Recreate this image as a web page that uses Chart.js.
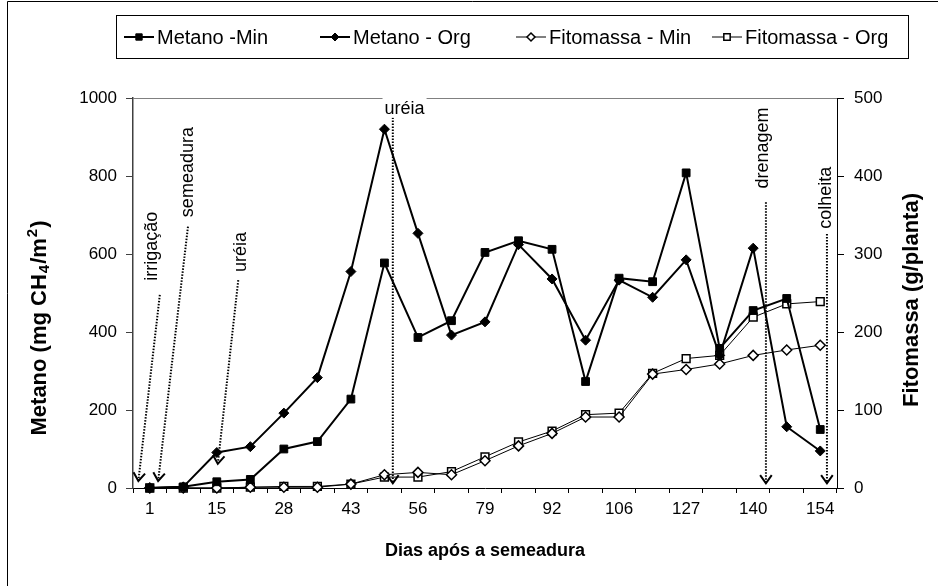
<!DOCTYPE html>
<html>
<head>
<meta charset="utf-8">
<script src="https://cdn.jsdelivr.net/npm/chart.js@4/dist/chart.umd.min.js"></script>
<style>
  html, body { margin: 0; padding: 0; background: #fff; }
  canvas { display: block; }
</style>
</head>
<body>
<canvas id="chart" width="938" height="586" style="width:938px;height:586px"></canvas>
<script>
// dias após a semeadura (only every second category is labelled in the original)
const dias = ['1', '', '15', '', '28', '', '43', '', '56', '', '79', '', '92', '', '106', '', '127', '', '140', '', '154'];

// metano (mg CH4/m2), left axis
const metanoMin = [0, 3, 16, 22, 100, 119, 228, 577, 386, 429, 604, 634, 612, 273, 538, 529, 808, 358, 455, 486, 150];
const metanoOrg = [0, 3, 91, 106, 192, 283, 555, 920, 653, 392, 426, 624, 536, 379, 533, 489, 585, 340, 615, 157, 95];

// fitomassa (g/planta), right axis
const fitoMin = [0, 0, 0, 1, 1, 1, 5, 17, 20, 17, 35, 54, 70, 91, 91, 146, 152, 159, 170, 177, 183];
const fitoOrg = [0, 0, 0, 1, 2, 2, 5, 14, 14, 21, 40, 59, 73, 94, 96, 147, 166, 170, 219, 236, 239];

const seriesNames = ['Metano -Min', 'Metano - Org', 'Fitomassa - Min', 'Fitomassa - Org'];

// management events: category index / left-axis value for text and arrow
const eventos = [
  { text: 'irrigação', rot: true, tx: 0.05, ty: 620, x1: 0.3, y1: 495, x2: -0.34, y2: 18 },
  { text: 'semeadura', rot: true, tx: 1.1, ty: 810, x1: 1.14, y1: 670, x2: 0.25, y2: 18 },
  { text: 'uréia', rot: true, tx: 2.69, ty: 605, x1: 2.64, y1: 533, x2: 2.03, y2: 62 },
  { text: 'uréia', rot: false, tx: 7.6, ty: 975, x1: 7.25, y1: 950, x2: 7.25, y2: 12 },
  { text: 'drenagem', rot: true, tx: 18.26, ty: 872, x1: 18.38, y1: 733, x2: 18.38, y2: 12 },
  { text: 'colheita', rot: true, tx: 20.15, ty: 744, x1: 20.2, y1: 651, x2: 20.2, y2: 12 }
];

const FONT = '"Liberation Sans", Arial, sans-serif';

function marker(ctx, style, x, y, r, fill, lw) {
  ctx.save();
  ctx.fillStyle = fill;
  ctx.strokeStyle = '#000';
  ctx.lineWidth = lw;
  ctx.beginPath();
  if (style === 'rect') {
    const s = r / Math.SQRT2;
    ctx.rect(x - s, y - s, 2 * s, 2 * s);
  } else {
    ctx.moveTo(x, y - r); ctx.lineTo(x + r, y); ctx.lineTo(x, y + r); ctx.lineTo(x - r, y); ctx.closePath();
  }
  ctx.fill();
  ctx.stroke();
  ctx.restore();
}

function rotatedTitle(ctx, parts, cx, cy) {
  ctx.save();
  ctx.fillStyle = '#000';
  ctx.textBaseline = 'middle';
  let total = 0;
  parts.forEach(p => { ctx.font = p[1]; total += ctx.measureText(p[0]).width + (p[3] || 0); });
  ctx.translate(cx, cy);
  ctx.rotate(-Math.PI / 2);
  let x = -total / 2;
  parts.forEach(p => {
    ctx.font = p[1];
    ctx.fillText(p[0], x, p[2]);
    x += ctx.measureText(p[0]).width + (p[3] || 0);
  });
  ctx.restore();
}

const extras = {
  id: 'extras',
  afterDraw(chart) {
    const ctx = chart.ctx;
    const xs = chart.scales.x, ys = chart.scales.y;
    const area = chart.chartArea;

    // outer frame (left and top edges; the rest is cut off in the original)
    ctx.save();
    ctx.strokeStyle = '#000';
    ctx.lineWidth = 1;
    ctx.beginPath();
    ctx.moveTo(7.5, 586);
    ctx.lineTo(7.5, 1.5);
    ctx.lineTo(938, 1.5);
    ctx.stroke();
    // plot area top edge
    ctx.strokeStyle = '#808080';
    ctx.beginPath();
    ctx.moveTo(area.left, area.top + 0.5);
    ctx.lineTo(area.right, area.top + 0.5);
    ctx.stroke();
    ctx.restore();

    // legend
    ctx.save();
    ctx.strokeStyle = '#000';
    ctx.lineWidth = 1;
    ctx.strokeRect(116.5, 15.5, 792, 43);
    const ly = 37, pitch = 196, sw = 30;
    ctx.font = '20px ' + FONT;
    ctx.textBaseline = 'middle';
    ctx.fillStyle = '#000';
    chart.data.datasets.forEach((ds, i) => {
      const x0 = 124 + i * pitch;
      ctx.lineWidth = ds.borderWidth;
      ctx.beginPath();
      ctx.moveTo(x0, ly);
      ctx.lineTo(x0 + sw, ly);
      ctx.stroke();
      marker(ctx, ds.pointStyle, x0 + sw / 2, ly, ds.pointRadius - 1, ds.pointBackgroundColor, ds.pointBorderWidth);
      ctx.fillText(ds.label, x0 + sw + 3, ly + 1);
    });
    ctx.restore();

    // event arrows
    ctx.save();
    eventos.forEach(ev => {
      const ax = xs.getPixelForValue(ev.x1), ay = ys.getPixelForValue(ev.y1);
      const bx = xs.getPixelForValue(ev.x2), by = ys.getPixelForValue(ev.y2);
      ctx.strokeStyle = '#000';
      ctx.lineWidth = 2;
      ctx.setLineDash([1.5, 1.5]);
      ctx.beginPath();
      ctx.moveTo(ax, ay);
      ctx.lineTo(bx, by);
      ctx.stroke();
      ctx.setLineDash([]);
      const ang = Math.atan2(by - ay, bx - ax);
      const L = 10, spread = 0.62;
      ctx.beginPath();
      ctx.moveTo(bx - L * Math.cos(ang - spread), by - L * Math.sin(ang - spread));
      ctx.lineTo(bx, by);
      ctx.lineTo(bx - L * Math.cos(ang + spread), by - L * Math.sin(ang + spread));
      ctx.stroke();
    });
    eventos.forEach(ev => {
      const px = xs.getPixelForValue(ev.tx), py = ys.getPixelForValue(ev.ty);
      ctx.save();
      ctx.translate(px, py);
      if (ev.rot) ctx.rotate(-Math.PI / 2);
      ctx.font = '18px ' + FONT;
      const w = ctx.measureText(ev.text).width;
      ctx.fillStyle = '#fff';
      ctx.fillRect(-w / 2 - 2, -10, w + 4, 20);
      ctx.fillStyle = '#000';
      ctx.textAlign = 'center';
      ctx.textBaseline = 'middle';
      ctx.fillText(ev.text, 0, 1);
      ctx.restore();
    });
    ctx.restore();

    // axis titles
    const big = 'bold 22px ' + FONT, small = 'bold 15px ' + FONT;
    rotatedTitle(ctx, [['Metano (mg CH', big, 0, 1], ['4', small, 5, 1], ['/m', big, 0, 1], ['2', small, -7, 1], [')', big, 0]], 40, 328);
    rotatedTitle(ctx, [['Fitomassa (g/planta)', big, 0]], 912, 300);

    ctx.save();
    ctx.fillStyle = '#000';
    ctx.font = 'bold 18px ' + FONT;
    ctx.textAlign = 'center';
    ctx.textBaseline = 'middle';
    ctx.fillText('Dias após a semeadura', (area.left + area.right) / 2, 551);
    ctx.restore();
  }
};

const tickFont = { family: FONT, size: 17 };

new Chart(document.getElementById('chart'), {
  type: 'line',
  data: {
    labels: dias,
    datasets: [
      { label: seriesNames[0], data: metanoMin, yAxisID: 'y', borderColor: '#000', borderWidth: 2,
        pointStyle: 'rect', pointRadius: 5.5, pointBackgroundColor: '#000', pointBorderColor: '#000', pointBorderWidth: 1 },
      { label: seriesNames[1], data: metanoOrg, yAxisID: 'y', borderColor: '#000', borderWidth: 2,
        pointStyle: 'rectRot', pointRadius: 5, pointBackgroundColor: '#000', pointBorderColor: '#000', pointBorderWidth: 1 },
      { label: seriesNames[2], data: fitoMin, yAxisID: 'y1', borderColor: '#000', borderWidth: 1,
        pointStyle: 'rectRot', pointRadius: 5, pointBackgroundColor: '#fff', pointBorderColor: '#000', pointBorderWidth: 1.5 },
      { label: seriesNames[3], data: fitoOrg, yAxisID: 'y1', borderColor: '#000', borderWidth: 1,
        pointStyle: 'rect', pointRadius: 5.5, pointBackgroundColor: '#fff', pointBorderColor: '#000', pointBorderWidth: 1.5 }
    ]
  },
  options: {
    responsive: false,
    animation: false,
    events: [],
    clip: false,
    elements: { line: { tension: 0 } },
    layout: { padding: { top: 98, left: 0, right: 0, bottom: 0 } },
    plugins: { legend: { display: false }, tooltip: { enabled: false } },
    scales: {
      x: {
        offset: true,
        grid: { offset: true, drawOnChartArea: false, tickLength: 5, color: '#000' },
        border: { color: '#000', width: 1 },
        ticks: { autoSkip: false, maxRotation: 0, font: tickFont, color: '#000', padding: 6 },
        afterFit: s => { s.height = 98; }
      },
      y: {
        position: 'left', min: 0, max: 1000,
        grid: { drawOnChartArea: false, tickLength: 7, color: '#404040' },
        border: { color: '#404040', width: 1.5 },
        ticks: { stepSize: 200, font: tickFont, color: '#000', padding: 9, callback: v => String(v) },
        afterFit: s => { s.width = 133; }
      },
      y1: {
        position: 'right', min: 0, max: 500,
        grid: { drawOnChartArea: false, tickLength: 7, color: '#000' },
        border: { color: '#000', width: 1 },
        ticks: { stepSize: 100, font: tickFont, color: '#000', padding: 10, callback: v => String(v) },
        afterFit: s => { s.width = 101; }
      }
    }
  },
  plugins: [extras]
});
</script>
</body>
</html>
